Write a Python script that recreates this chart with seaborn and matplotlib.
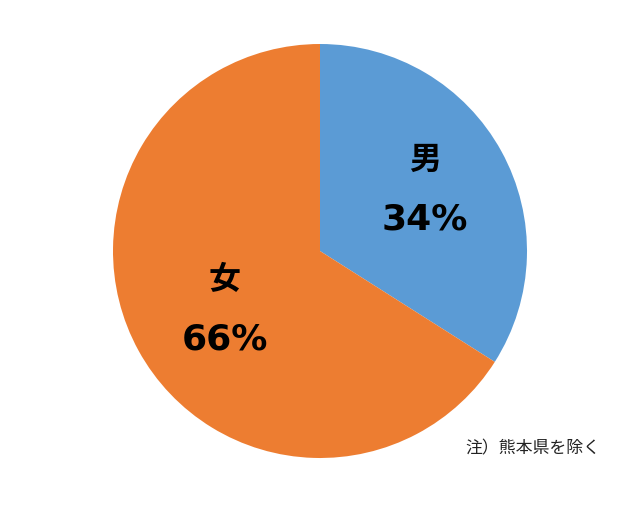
import matplotlib
matplotlib.use("Agg")
import matplotlib.pyplot as plt
import seaborn as sns

# Data
labels = ["男", "女"]
shares = [34, 66]
colors = ["#5B9BD5", "#ED7D31"]
note = "注）熊本県を除く"

sns.set_style("white")
plt.rcParams['font.family'] = ['Noto Sans CJK JP', 'DejaVu Sans']

fig = plt.figure(figsize=(6.4, 5.06), dpi=100)
ax = fig.add_axes([0, 0, 1, 1])

ax.pie(
    shares,
    colors=colors,
    startangle=90,
    counterclock=False,
    radius=1.0,
    wedgeprops={'linewidth': 0},
)

# label positions (data units, radius = 1)
label_pos = [(0.507, 0.444, 0.159), (-0.459, -0.135, -0.425)]
for (x, y_name, y_pct), name, val in zip(label_pos, labels, shares):
    ax.text(x, y_name, name, ha='center', va='center', fontsize=23, fontweight='bold', color='black')
    ax.text(x, y_pct, f"{val}%", ha='center', va='center', fontsize=26,
            fontweight='bold', color='black', family=['DejaVu Sans'])

ax.set_aspect('auto')
ax.set_xlim(-320 / 207, 320 / 207)
ax.set_ylim(-254 / 207, 252 / 207)
ax.axis('off')

fig.text(0.727, 0.113, note, ha='left', va='center', fontsize=12.2, color='#222222')

fig.savefig("out.png", dpi=100, facecolor='white')
